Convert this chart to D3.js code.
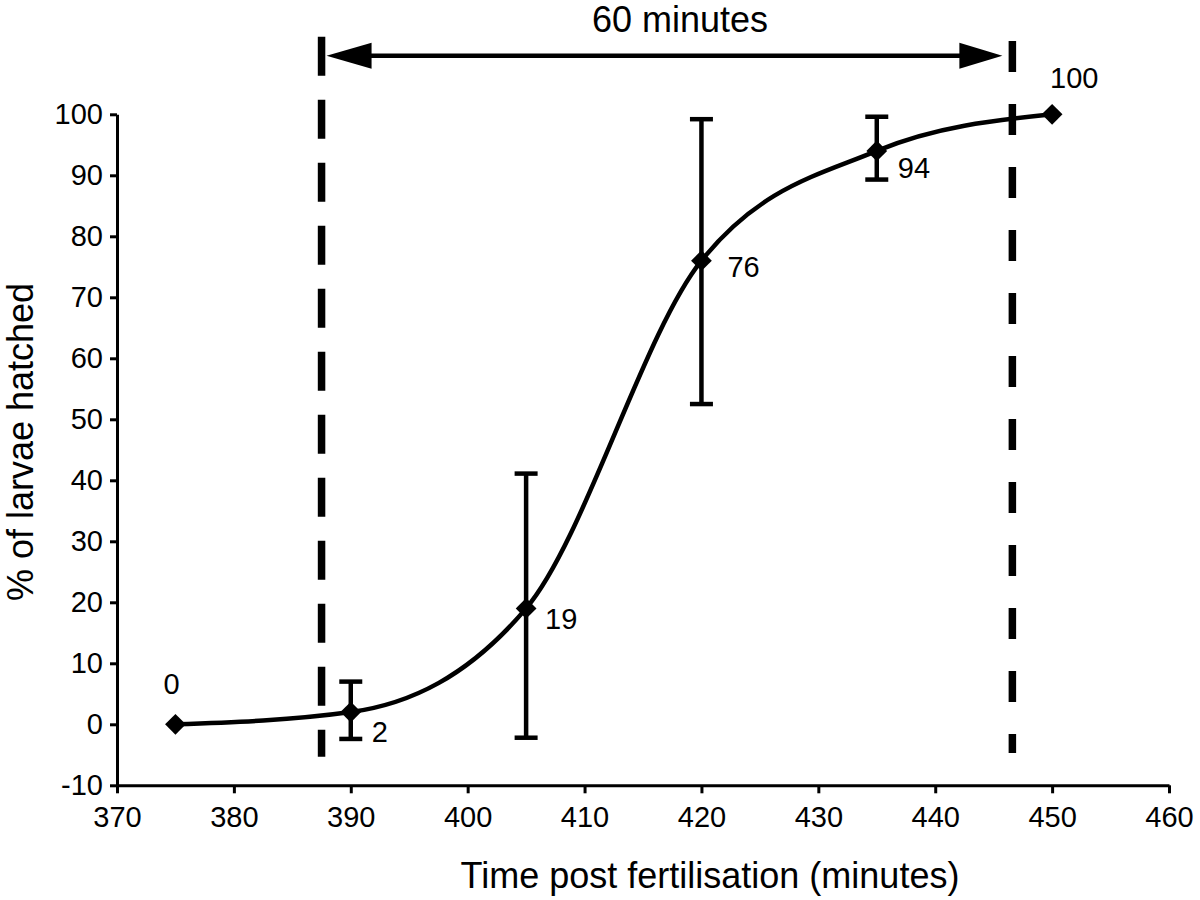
<!DOCTYPE html>
<html>
<head>
<meta charset="utf-8">
<script src="https://cdn.jsdelivr.net/npm/d3@7"></script>
<style>
  html, body { margin: 0; padding: 0; background: #fff; }
  svg { display: block; }
  text { font-family: "Liberation Sans", Arial, Helvetica, sans-serif; fill: #000; }
</style>
</head>
<body>
<svg id="chart" width="1200" height="900"></svg>
<script>
// ---- data ----
const times = [375, 390, 405, 420, 435, 450];
const hatched = [0, 2, 19, 76, 94, 100];
const errUpper = [null, 7.0, 41.1, 99.2, 99.6, null];
const errLower = [null, -2.4, -2.2, 52.5, 89.3, null];
const pointLabels = ["0", "2", "19", "76", "94", "100"];
const xTicks = [370, 380, 390, 400, 410, 420, 430, 440, 450, 460];
const yTicks = [-10, 0, 10, 20, 30, 40, 50, 60, 70, 80, 90, 100];
const guideTimes = [387.5, 446.6];
const guideTop = [112.7, 112.0];
const guideBottom = [-5.3, -4.7];
const spanLevel = 109.6;
const spanText = "60 minutes";
const xTitle = "Time post fertilisation (minutes)";
const yTitle = "% of larvae hatched";

// ---- layout / style ----
const labelOffsets = [[-12, -30], [21, 30], [19, 21], [26, 16], [21, 27], [-2, -26]];
const guideDash = ["39,24", "31,32"];

const svg = d3.select("#chart");
svg.append("rect").attr("width", 1200).attr("height", 900).attr("fill", "#fff");

const x = d3.scaleLinear().domain([370, 460]).range([117, 1169]);
const y = d3.scaleLinear().domain([-10, 100]).range([785.3, 114.3]);

// axes
const fmt = d => String(d);
const yAxis = svg.append("g")
  .attr("transform", `translate(${x(370)},0)`)
  .call(d3.axisLeft(y).tickValues(yTicks).tickSize(7).tickSizeOuter(0).tickPadding(7)
    .tickFormat(fmt));
const xAxis = svg.append("g")
  .attr("transform", `translate(0,${y(-10)})`)
  .call(d3.axisBottom(x).tickValues(xTicks).tickSize(8).tickSizeOuter(0).tickPadding(13)
    .tickFormat(fmt));
[xAxis, yAxis].forEach(g => {
  g.selectAll("path, line").attr("stroke", "#000").attr("stroke-width", 3);
  g.selectAll("text").attr("font-size", 29).attr("fill", "#000")
    .style("font-family", '"Liberation Sans", Arial, sans-serif');
});

// axis titles
svg.append("text").attr("x", 710).attr("y", 888).attr("text-anchor", "middle")
  .attr("font-size", 36).text(xTitle);
svg.append("text").attr("transform", `translate(33,${442}) rotate(-90)`)
  .attr("text-anchor", "middle").attr("font-size", 36).text(yTitle);

// guide dashed lines
guideTimes.forEach((t, i) => {
  svg.append("line")
    .attr("x1", x(t)).attr("x2", x(t))
    .attr("y1", y(guideTop[i])).attr("y2", y(guideBottom[i]))
    .attr("stroke", "#000").attr("stroke-width", 7.5)
    .attr("stroke-dasharray", guideDash[i]);
});

// double arrow
const ay = y(spanLevel);
const ax1 = x(guideTimes[0]) + 5;
const ax2 = x(guideTimes[1]) - 10;
svg.append("line").attr("x1", ax1 + 20).attr("x2", ax2 - 20).attr("y1", ay).attr("y2", ay)
  .attr("stroke", "#000").attr("stroke-width", 4.5);
svg.append("path")
  .attr("d", `M${ax1},${ay} L${ax1 + 45},${ay - 13} L${ax1 + 45},${ay + 13} Z`).attr("fill", "#000");
svg.append("path")
  .attr("d", `M${ax2},${ay} L${ax2 - 43},${ay - 13} L${ax2 - 43},${ay + 13} Z`).attr("fill", "#000");
svg.append("text").attr("x", 680).attr("y", 32).attr("text-anchor", "middle")
  .attr("font-size", 36).text(spanText);

// data
const data = times.map((t, i) => ({ t, v: hatched[i], hi: errUpper[i], lo: errLower[i], label: pointLabels[i], i }));

// curve
const line = d3.line().x(d => x(d.t)).y(d => y(d.v)).curve(d3.curveMonotoneX);
svg.append("path").datum(data).attr("d", line)
  .attr("fill", "none").attr("stroke", "#000").attr("stroke-width", 4.5);

// error bars
const eb = svg.append("g").selectAll("g").data(data.filter(d => d.hi !== null)).join("g");
eb.append("line").attr("x1", d => x(d.t)).attr("x2", d => x(d.t))
  .attr("y1", d => y(d.hi)).attr("y2", d => y(d.lo))
  .attr("stroke", "#000").attr("stroke-width", 4.5);
eb.append("line").attr("x1", d => x(d.t) - 11.5).attr("x2", d => x(d.t) + 11.5)
  .attr("y1", d => y(d.hi)).attr("y2", d => y(d.hi))
  .attr("stroke", "#000").attr("stroke-width", 4.5);
eb.append("line").attr("x1", d => x(d.t) - 11.5).attr("x2", d => x(d.t) + 11.5)
  .attr("y1", d => y(d.lo)).attr("y2", d => y(d.lo))
  .attr("stroke", "#000").attr("stroke-width", 4.5);

// diamond markers
const diamond = d3.symbol().type(d3.symbolSquare).size(215);
svg.append("g").selectAll("path").data(data).join("path")
  .attr("d", diamond)
  .attr("transform", d => `translate(${x(d.t)},${y(d.v)}) rotate(45)`)
  .attr("fill", "#000");

// point labels
svg.append("g").selectAll("text").data(data).join("text")
  .attr("x", d => x(d.t) + labelOffsets[d.i][0])
  .attr("y", d => y(d.v) + labelOffsets[d.i][1])
  .attr("font-size", 29)
  .text(d => d.label);
</script>
</body>
</html>
